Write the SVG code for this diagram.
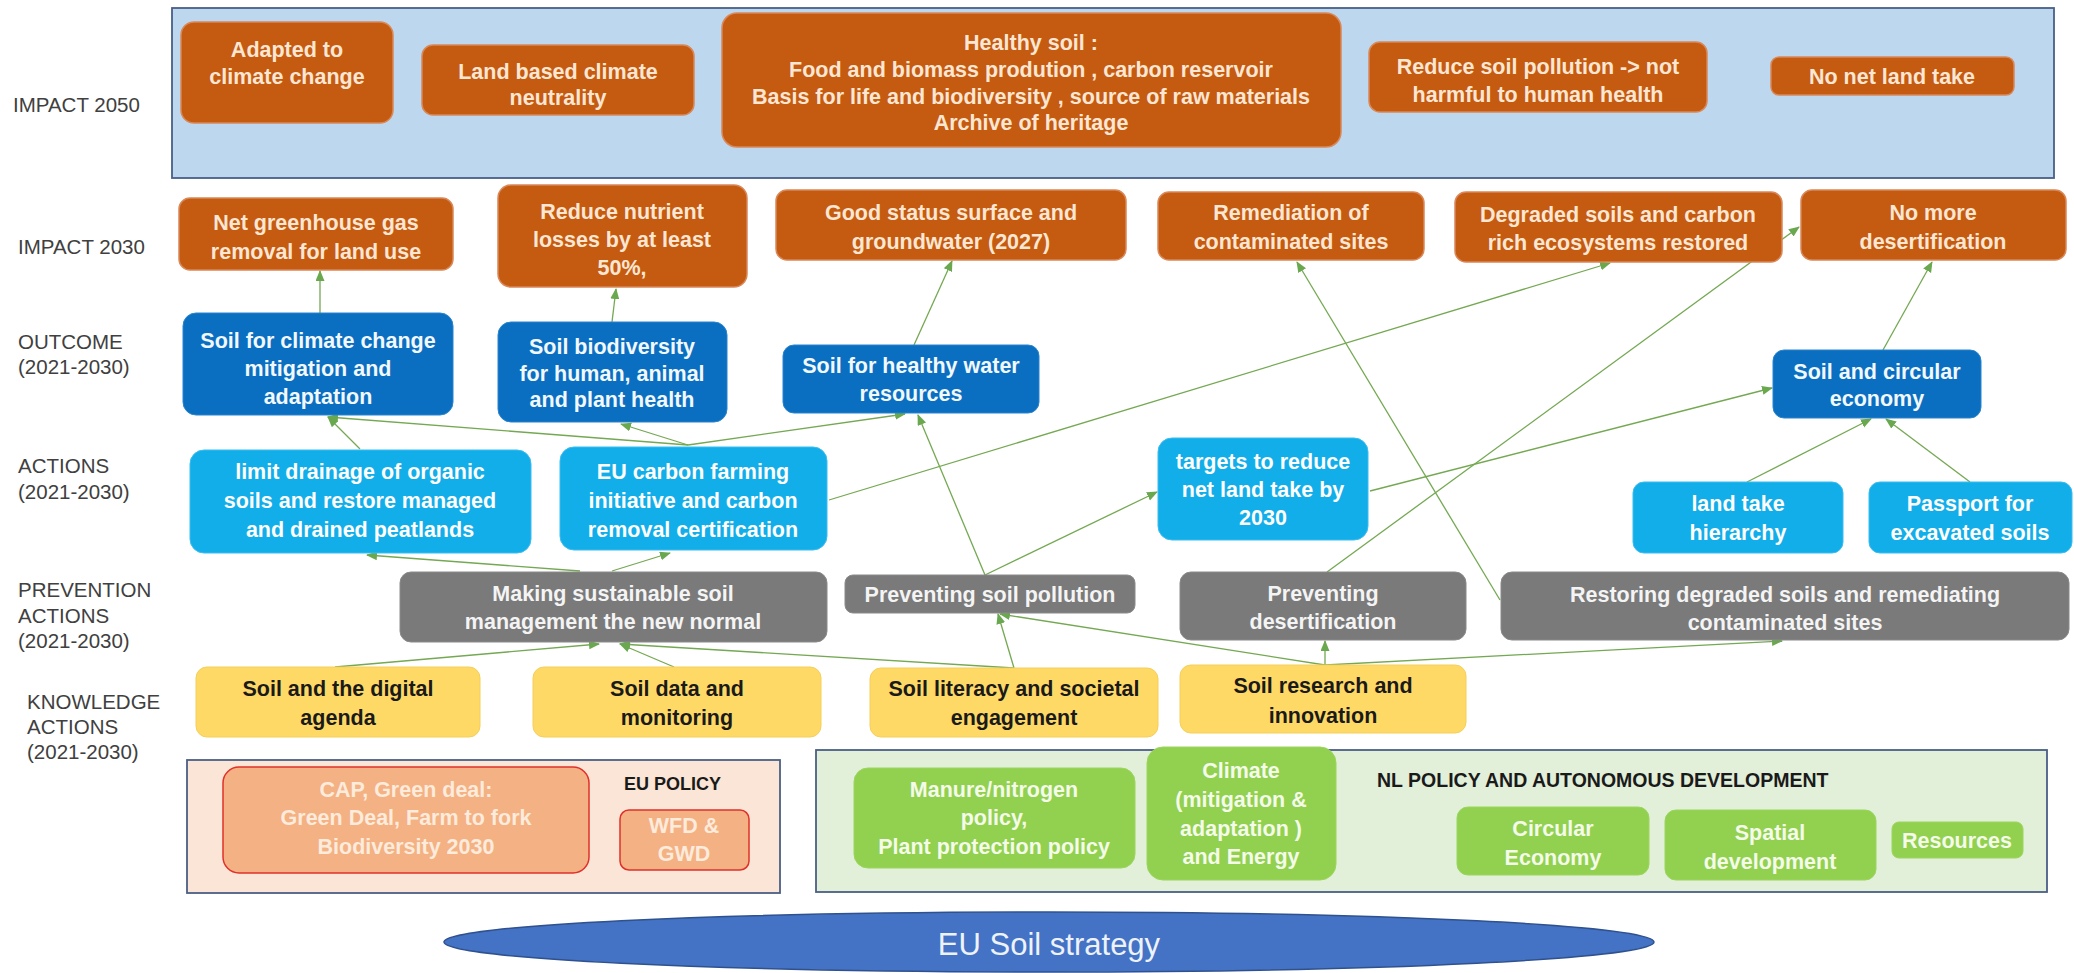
<svg xmlns="http://www.w3.org/2000/svg" width="2074" height="973" viewBox="0 0 2074 973">
<style>
.lbl{font-family:"Liberation Sans",Arial,sans-serif;font-size:20.5px;fill:#404040}
.t{font-family:"Liberation Sans",Arial,sans-serif;font-weight:bold;font-size:21.5px;text-anchor:middle;dominant-baseline:central}
.imp rect{fill:#c55a11;stroke:#d9885a;stroke-width:1.5}
.imp text{fill:#fde7d3}
.out rect{fill:#0a6fc0;stroke:#2a84cc;stroke-width:1}
.out text{fill:#f2f8ff}
.act rect{fill:#12aeea;stroke:#3bbcef;stroke-width:1}
.act text{fill:#ffffff}
.prev rect{fill:#7a7a7a;stroke:#8a8a8a;stroke-width:1}
.prev text{fill:#f4f4f4}
.know rect{fill:#ffd966;stroke:#f5cf5a;stroke-width:1}
.know text{fill:#1a1a1a}
.eu rect{fill:#f4b183;stroke:#e0302a;stroke-width:1.5}
.eu text{fill:#fdebdc}
.nl rect{fill:#92d050;stroke:#9ad65c;stroke-width:1}
.nl text{fill:#f4fbe9}
.cont{stroke:#4a5f86;stroke-width:1.8}
.hdr{font-family:"Liberation Sans",Arial,sans-serif;font-weight:bold;font-size:18px;fill:#1a1a1a;dominant-baseline:central}
#connectors line{stroke:#74a852;stroke-width:1.3;marker-end:url(#arr)}
</style>
<defs>
<marker id="arr" markerUnits="userSpaceOnUse" markerWidth="12" markerHeight="10" refX="10" refY="4.5" orient="auto">
<path d="M0,0 L11,4.5 L0,9 Z" fill="#6aa84f"/>
</marker>
</defs>
<rect width="2074" height="973" fill="#ffffff"/>

<!-- row labels -->
<g id="labels">
<text class="lbl" x="13" y="112">IMPACT 2050</text>
<text class="lbl" x="18" y="254">IMPACT 2030</text>
<text class="lbl" x="18" y="349">OUTCOME</text>
<text class="lbl" x="18" y="374">(2021-2030)</text>
<text class="lbl" x="18" y="473">ACTIONS</text>
<text class="lbl" x="18" y="499">(2021-2030)</text>
<text class="lbl" x="18" y="597">PREVENTION</text>
<text class="lbl" x="18" y="623">ACTIONS</text>
<text class="lbl" x="18" y="648">(2021-2030)</text>
<text class="lbl" x="27" y="709">KNOWLEDGE</text>
<text class="lbl" x="27" y="734">ACTIONS</text>
<text class="lbl" x="27" y="759">(2021-2030)</text>
</g>

<!-- containers -->
<g id="impact2050-container"><rect class="cont" x="172" y="8" width="1882" height="170" fill="#bdd7ee"/></g>
<g id="eu-policy-container">
<rect class="cont" x="187" y="760" width="593" height="133" fill="#fbe5d6"/>
<text class="hdr" x="624" y="784">EU POLICY</text>
</g>
<g id="nl-policy-container">
<rect class="cont" x="816" y="750" width="1231" height="142" fill="#e2efd9"/>
<text class="hdr" x="1377" y="780" style="font-size:19.5px">NL POLICY AND AUTONOMOUS DEVELOPMENT</text>
</g>

<!-- connectors -->
<g id="connectors">
<line x1="320" y1="313" x2="320" y2="271"/>
<line x1="612" y1="322" x2="616" y2="289"/>
<line x1="360" y1="449" x2="328" y2="417"/>
<line x1="688" y1="445" x2="328" y2="417"/>
<line x1="688" y1="445" x2="621" y2="424"/>
<line x1="688" y1="445" x2="905" y2="414"/>
<line x1="829" y1="500" x2="1610" y2="263"/>
<line x1="580" y1="571" x2="367" y2="555"/>
<line x1="612" y1="571" x2="670" y2="553"/>
<line x1="335" y1="667" x2="599" y2="644"/>
<line x1="674" y1="667" x2="620" y2="644"/>
<line x1="1014" y1="668" x2="620" y2="644"/>
<line x1="1014" y1="668" x2="998" y2="614"/>
<line x1="1325" y1="665" x2="1000" y2="614"/>
<line x1="1325" y1="665" x2="1325" y2="641"/>
<line x1="1325" y1="665" x2="1782" y2="641"/>
<line x1="985" y1="575" x2="918" y2="415"/>
<line x1="985" y1="575" x2="1157" y2="492"/>
<line x1="1370" y1="491" x2="1772" y2="388"/>
<line x1="1327" y1="572" x2="1799" y2="227"/>
<line x1="1500" y1="600" x2="1297" y2="262"/>
<line x1="1883" y1="350" x2="1932" y2="262"/>
<line x1="1747" y1="482" x2="1871" y2="419"/>
<line x1="1970" y1="482" x2="1886" y2="419"/>
<line x1="914" y1="345" x2="952" y2="261"/>
</g>

<!-- IMPACT 2050 -->
<g id="adapted" class="imp"><rect x="181" y="22" width="212" height="101" rx="13"/>
<text class="t" x="287" y="50">Adapted to</text><text class="t" x="287" y="77">climate change</text></g>
<g id="land-based" class="imp"><rect x="422" y="45" width="272" height="70" rx="11"/>
<text class="t" x="558" y="72">Land based climate</text><text class="t" x="558" y="98">neutrality</text></g>
<g id="healthy-soil" class="imp"><rect x="722" y="13" width="619" height="134" rx="15"/>
<text class="t" x="1031" y="43">Healthy soil :</text>
<text class="t" x="1031" y="70">Food and biomass prodution , carbon reservoir</text>
<text class="t" x="1031" y="97">Basis for life and biodiversity , source of raw materials</text>
<text class="t" x="1031" y="123">Archive of heritage</text></g>
<g id="reduce-pollution" class="imp"><rect x="1369" y="42" width="338" height="70" rx="11"/>
<text class="t" x="1538" y="67">Reduce soil pollution -&gt; not</text><text class="t" x="1538" y="95">harmful to human health</text></g>
<g id="no-net-land-take" class="imp"><rect x="1771" y="57" width="243" height="38" rx="8"/>
<text class="t" x="1892" y="77">No net land take</text></g>

<!-- IMPACT 2030 -->
<g id="net-ghg" class="imp"><rect x="179" y="198" width="274" height="72" rx="11"/>
<text class="t" x="316" y="223">Net greenhouse gas</text><text class="t" x="316" y="252">removal for land use</text></g>
<g id="reduce-nutrient" class="imp"><rect x="498" y="185" width="249" height="102" rx="13"/>
<text class="t" x="622" y="212">Reduce nutrient</text><text class="t" x="622" y="240">losses by at least</text><text class="t" x="622" y="268">50%,</text></g>
<g id="good-status" class="imp"><rect x="776" y="190" width="350" height="70" rx="11"/>
<text class="t" x="951" y="213">Good status surface and</text><text class="t" x="951" y="242">groundwater (2027)</text></g>
<g id="remediation" class="imp"><rect x="1158" y="192" width="266" height="68" rx="11"/>
<text class="t" x="1291" y="213">Remediation of</text><text class="t" x="1291" y="242">contaminated sites</text></g>
<g id="degraded" class="imp"><rect x="1455" y="192" width="327" height="70" rx="11"/>
<text class="t" x="1618" y="215">Degraded soils and carbon</text><text class="t" x="1618" y="243">rich ecosystems restored</text></g>
<g id="no-more-desert" class="imp"><rect x="1801" y="190" width="265" height="70" rx="11"/>
<text class="t" x="1933" y="213">No more</text><text class="t" x="1933" y="242">desertification</text></g>

<!-- OUTCOME -->
<g id="soil-climate" class="out"><rect x="183" y="313" width="270" height="102" rx="13"/>
<text class="t" x="318" y="341">Soil for climate change</text><text class="t" x="318" y="369">mitigation and</text><text class="t" x="318" y="397">adaptation</text></g>
<g id="soil-biodiversity" class="out"><rect x="498" y="322" width="229" height="100" rx="13"/>
<text class="t" x="612" y="347">Soil biodiversity</text><text class="t" x="612" y="374">for human, animal</text><text class="t" x="612" y="400">and plant health</text></g>
<g id="soil-water" class="out"><rect x="783" y="345" width="256" height="68" rx="11"/>
<text class="t" x="911" y="366">Soil for healthy water</text><text class="t" x="911" y="394">resources</text></g>
<g id="soil-circular" class="out"><rect x="1773" y="350" width="208" height="68" rx="11"/>
<text class="t" x="1877" y="372">Soil and circular</text><text class="t" x="1877" y="399">economy</text></g>

<!-- ACTIONS -->
<g id="limit-drainage" class="act"><rect x="190" y="450" width="341" height="103" rx="14"/>
<text class="t" x="360" y="472">limit drainage of organic</text><text class="t" x="360" y="501">soils and restore managed</text><text class="t" x="360" y="530">and drained peatlands</text></g>
<g id="eu-carbon" class="act"><rect x="560" y="447" width="267" height="103" rx="14"/>
<text class="t" x="693" y="472">EU carbon farming</text><text class="t" x="693" y="501">initiative and carbon</text><text class="t" x="693" y="530">removal certification</text></g>
<g id="targets" class="act"><rect x="1158" y="438" width="210" height="102" rx="14"/>
<text class="t" x="1263" y="462">targets to reduce</text><text class="t" x="1263" y="490">net land take by</text><text class="t" x="1263" y="518">2030</text></g>
<g id="land-take-hierarchy" class="act"><rect x="1633" y="482" width="210" height="71" rx="11"/>
<text class="t" x="1738" y="504">land take</text><text class="t" x="1738" y="533">hierarchy</text></g>
<g id="passport" class="act"><rect x="1869" y="482" width="203" height="71" rx="11"/>
<text class="t" x="1970" y="504">Passport for</text><text class="t" x="1970" y="533">excavated soils</text></g>

<!-- PREVENTION -->
<g id="making-sustainable" class="prev"><rect x="400" y="572" width="427" height="70" rx="11"/>
<text class="t" x="613" y="594">Making sustainable soil</text><text class="t" x="613" y="622">management the new normal</text></g>
<g id="prev-pollution" class="prev"><rect x="845" y="575" width="290" height="38" rx="8"/>
<text class="t" x="990" y="595">Preventing soil pollution</text></g>
<g id="prev-desert" class="prev"><rect x="1180" y="572" width="286" height="68" rx="11"/>
<text class="t" x="1323" y="594">Preventing</text><text class="t" x="1323" y="622">desertification</text></g>
<g id="restoring" class="prev"><rect x="1501" y="572" width="568" height="68" rx="11"/>
<text class="t" x="1785" y="595">Restoring degraded soils and remediating</text><text class="t" x="1785" y="623">contaminated sites</text></g>

<!-- KNOWLEDGE -->
<g id="soil-digital" class="know"><rect x="196" y="667" width="284" height="70" rx="11"/>
<text class="t" x="338" y="689">Soil and the digital</text><text class="t" x="338" y="718">agenda</text></g>
<g id="soil-data" class="know"><rect x="533" y="667" width="288" height="70" rx="11"/>
<text class="t" x="677" y="689">Soil data and</text><text class="t" x="677" y="718">monitoring</text></g>
<g id="soil-literacy" class="know"><rect x="870" y="668" width="288" height="69" rx="11"/>
<text class="t" x="1014" y="689">Soil literacy and societal</text><text class="t" x="1014" y="718">engagement</text></g>
<g id="soil-research" class="know"><rect x="1180" y="665" width="286" height="68" rx="11"/>
<text class="t" x="1323" y="686">Soil research and</text><text class="t" x="1323" y="716">innovation</text></g>

<!-- EU POLICY -->
<g id="cap" class="eu"><rect x="223" y="767" width="366" height="106" rx="16"/>
<text class="t" x="406" y="790">CAP, Green deal:</text><text class="t" x="406" y="818">Green Deal, Farm to fork</text><text class="t" x="406" y="847">Biodiversity 2030</text></g>
<g id="wfd" class="eu"><rect x="620" y="810" width="129" height="60" rx="9"/>
<text class="t" x="684" y="826">WFD &amp;</text><text class="t" x="684" y="854">GWD</text></g>

<!-- NL POLICY -->
<g id="manure" class="nl"><rect x="854" y="768" width="281" height="100" rx="14"/>
<text class="t" x="994" y="790">Manure/nitrogen</text><text class="t" x="994" y="818">policy,</text><text class="t" x="994" y="847">Plant protection policy</text></g>
<g id="climate-energy" class="nl"><rect x="1147" y="747" width="189" height="133" rx="16"/>
<text class="t" x="1241" y="771">Climate</text><text class="t" x="1241" y="800">(mitigation &amp;</text><text class="t" x="1241" y="829">adaptation )</text><text class="t" x="1241" y="857">and Energy</text></g>
<g id="circular-economy" class="nl"><rect x="1457" y="807" width="192" height="68" rx="11"/>
<text class="t" x="1553" y="829">Circular</text><text class="t" x="1553" y="858">Economy</text></g>
<g id="spatial" class="nl"><rect x="1665" y="810" width="211" height="70" rx="11"/>
<text class="t" x="1770" y="833">Spatial</text><text class="t" x="1770" y="862">development</text></g>
<g id="resources" class="nl"><rect x="1892" y="822" width="131" height="36" rx="7"/>
<text class="t" x="1957" y="841">Resources</text></g>

<!-- base -->
<g id="eu-soil-strategy">
<ellipse cx="1049" cy="942" rx="605" ry="30" fill="#4472c4" stroke="#2f528f" stroke-width="1.5"/>
<text x="1049" y="944" text-anchor="middle" dominant-baseline="central" style="font-family:'Liberation Sans',Arial,sans-serif;font-size:31px;fill:#eef2fa">EU Soil strategy</text>
</g>
</svg>
